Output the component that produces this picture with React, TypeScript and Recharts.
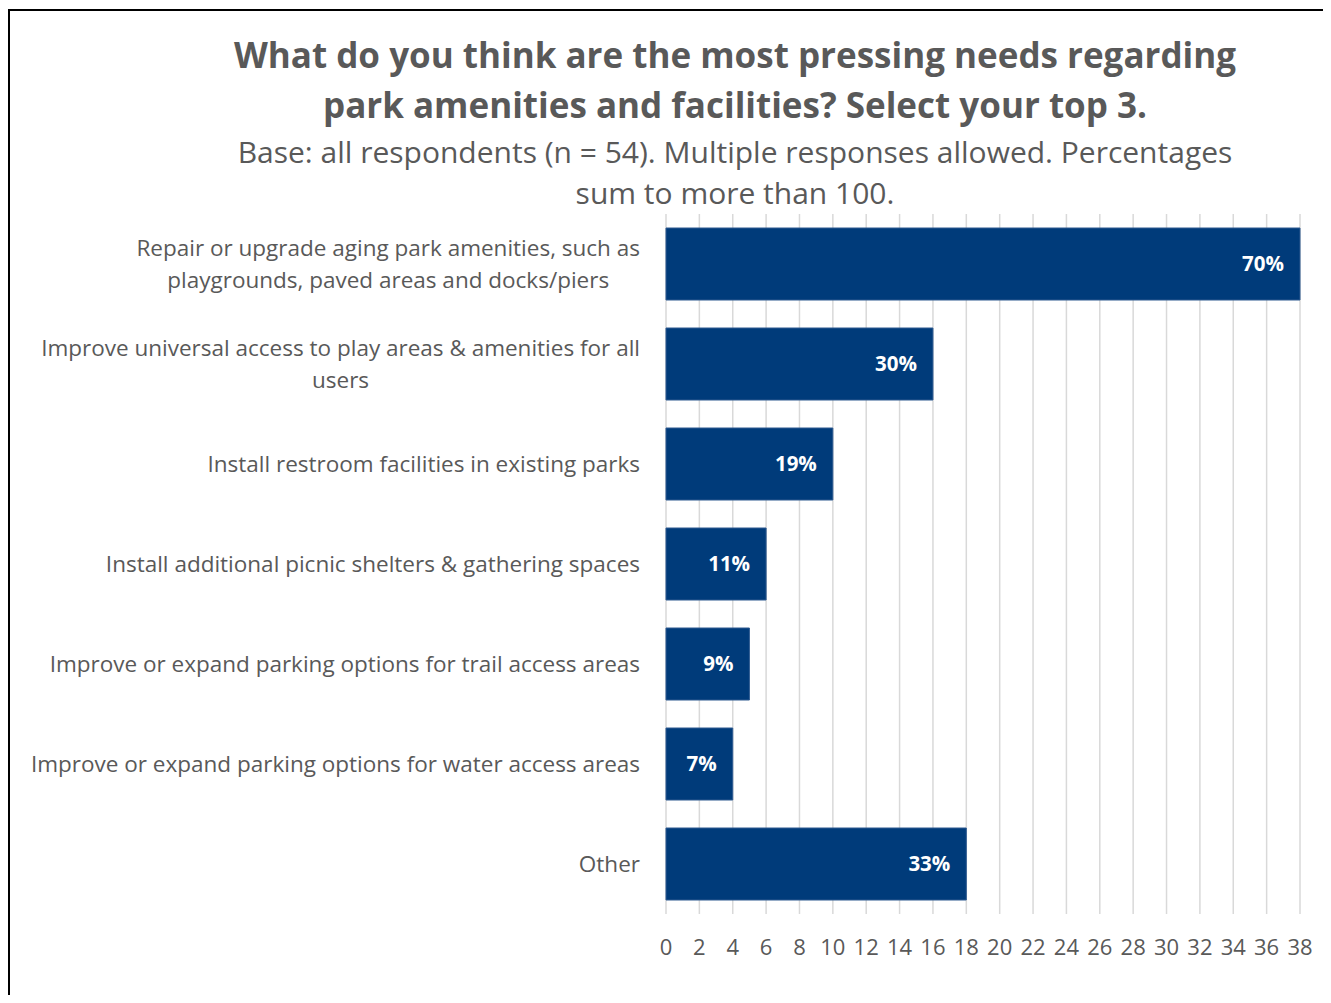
import React from 'react';
import { BarChart, Bar, XAxis, YAxis, CartesianGrid, LabelList } from 'recharts';

const categories = [
  'Repair or upgrade aging park amenities, such as\nplaygrounds, paved areas and docks/piers',
  'Improve universal access to play areas & amenities for all\nusers',
  'Install restroom facilities in existing parks',
  'Install additional picnic shelters & gathering spaces',
  'Improve or expand parking options for trail access areas',
  'Improve or expand parking options for water access areas',
  'Other',
];
const counts = [38, 16, 10, 6, 5, 4, 18];
const percents = ['70%', '30%', '19%', '11%', '9%', '7%', '33%'];
const xTicks = [0, 2, 4, 6, 8, 10, 12, 14, 16, 18, 20, 22, 24, 26, 28, 30, 32, 34, 36, 38];

const FONT = "'Open Sans', 'Noto Sans', sans-serif";
const GRAY = '#595959';
const BLUE = '#003b7a';

const data = categories.map((name, i) => ({ name, count: counts[i], pct: percents[i] }));

let ctx: CanvasRenderingContext2D | null = null;
const measure = (s: string, font: string) => {
  if (!ctx) ctx = document.createElement('canvas').getContext('2d');
  if (!ctx) return s.length * 10;
  ctx.font = font;
  return ctx.measureText(s).width;
};

const LABEL_SIZE = 22.5;

// labels are centred on their widest line, block right-aligned to the axis
const CategoryTick = ({ x, y, payload }: any) => {
  const lines: string[] = String(payload.value).split('\n');
  const maxW = Math.max(...lines.map(l => measure(l, `${LABEL_SIZE}px ${FONT}`)));
  const cx = x - 18 - maxW / 2;
  const lh = 32;
  const startY = y - ((lines.length - 1) * lh) / 2;
  return (
    <text x={cx} y={startY} textAnchor="middle" fill={GRAY} fontSize={LABEL_SIZE} fontFamily={FONT}>
      {lines.map((l, i) => (
        <tspan key={i} x={cx} y={startY + i * lh} dy="0.35em">{l}</tspan>
      ))}
    </text>
  );
};

const TitleLine = ({ text, baseline, size, bold }: any) => (
  <div
    style={{
      position: 'absolute',
      left: 725 - 700,
      width: 1400,
      top: baseline - 0.888 * size,
      textAlign: 'center',
      fontFamily: FONT,
      fontSize: size,
      lineHeight: 1,
      fontWeight: bold ? 700 : 400,
      color: GRAY,
      whiteSpace: 'nowrap',
    }}
  >
    {text}
  </div>
);

export default function App() {
  return (
    <div
      style={{
        position: 'relative',
        width: 1320,
        height: 986,
        marginTop: 1,
        border: '2px solid #000',
        borderBottom: 'none',
        boxSizing: 'border-box',
        background: '#fff',
        overflow: 'hidden',
      }}
    >
      <div style={{ position: 'absolute', left: -2, top: -3, width: 1320, height: 1000 }}>
        <BarChart
          width={1320}
          height={1000}
          data={data}
          layout="vertical"
          margin={{ top: 206, right: 28, bottom: 0, left: 0 }}
        >
          <CartesianGrid horizontal={false} stroke="#d9d9d9" strokeWidth={1.5} />
          <XAxis
            type="number"
            domain={[0, 38]}
            ticks={xTicks}
            interval={0}
            axisLine={false}
            tickLine={false}
            tickMargin={19}
            height={94}
            tick={{ fill: GRAY, fontSize: 22, fontFamily: FONT }}
          />
          <YAxis
            type="category"
            dataKey="name"
            width={658}
            axisLine={false}
            tickLine={false}
            interval={0}
            tick={<CategoryTick />}
          />
          <Bar dataKey="count" fill={BLUE} stroke="#2e5a90" strokeWidth={1} barSize={72} isAnimationActive={false}>
            <LabelList
              dataKey="pct"
              position="insideRight"
              offset={16}
              fill="#fff"
              fontSize={20.5}
              fontWeight={700}
              fontFamily={FONT}
            />
          </Bar>
        </BarChart>
      </div>
      <TitleLine text="What do you think are the most pressing needs regarding" baseline={68 - 11} size={35} bold />
      <TitleLine text="park amenities and facilities? Select your top 3." baseline={118 - 11} size={35} bold />
      <TitleLine text="Base: all respondents (n = 54). Multiple responses allowed. Percentages" baseline={164 - 11} size={30} />
      <TitleLine text="sum to more than 100." baseline={205 - 11} size={30} />
    </div>
  );
}
